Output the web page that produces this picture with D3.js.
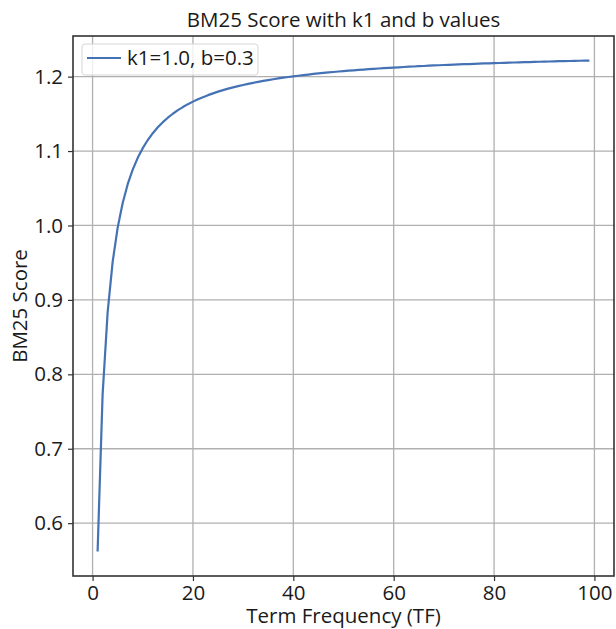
<!DOCTYPE html>
<html>
<head>
<meta charset="utf-8">
<script src="https://cdn.jsdelivr.net/npm/d3@7"></script>
<style>
  html, body { margin: 0; padding: 0; background: #fff; }
  svg text { font-family: "Open Sans", "Noto Sans", sans-serif; fill: #1a1a1a; }
</style>
</head>
<body>
<svg id="chart" width="616" height="629"></svg>
<script>
// Data
const termFrequency = d3.range(1, 100);
const bm25Scores = [
  0.5620, 0.7728, 0.8831, 0.9511, 0.9971, 1.0303, 1.0555, 1.0751, 1.0909, 1.1039,
  1.1148, 1.1240, 1.1319, 1.1388, 1.1448, 1.1501, 1.1549, 1.1591, 1.1630, 1.1664,
  1.1696, 1.1724, 1.1751, 1.1775, 1.1798, 1.1818, 1.1838, 1.1856, 1.1873, 1.1888,
  1.1903, 1.1917, 1.1930, 1.1943, 1.1954, 1.1965, 1.1976, 1.1986, 1.1995, 1.2004,
  1.2012, 1.2021, 1.2028, 1.2036, 1.2043, 1.2050, 1.2056, 1.2062, 1.2069, 1.2074,
  1.2080, 1.2085, 1.2090, 1.2095, 1.2100, 1.2105, 1.2109, 1.2113, 1.2118, 1.2122,
  1.2125, 1.2129, 1.2133, 1.2136, 1.2140, 1.2143, 1.2147, 1.2150, 1.2153, 1.2156,
  1.2158, 1.2161, 1.2164, 1.2167, 1.2169, 1.2172, 1.2174, 1.2177, 1.2179, 1.2181,
  1.2183, 1.2186, 1.2188, 1.2190, 1.2192, 1.2194, 1.2196, 1.2198, 1.2200, 1.2201,
  1.2203, 1.2205, 1.2207, 1.2208, 1.2210, 1.2211, 1.2213, 1.2214, 1.2216
];
const xTicks = [0, 20, 40, 60, 80, 100];
const yTicks = [0.6, 0.7, 0.8, 0.9, 1.0, 1.1, 1.2];
const seriesLabel = "k1=1.0, b=0.3";
const titleText = "BM25 Score with k1 and b values";
const xLabelText = "Term Frequency (TF)";
const yLabelText = "BM25 Score";

(function () {
const data = termFrequency.map((t, i) => ({ tf: t, score: bm25Scores[i] }));

const svg = d3.select("#chart");
const pL = 73, pR = 614, pT = 36, pB = 576;
const fs = 20.5;

// matplotlib-style 5% margins
const xExt = d3.extent(termFrequency), yExt = d3.extent(bm25Scores);
const xPad = (xExt[1] - xExt[0]) * 0.05, yPad = (yExt[1] - yExt[0]) * 0.05;
const x = d3.scaleLinear().domain([xExt[0] - xPad, xExt[1] + xPad]).range([pL, pR]);
const y = d3.scaleLinear().domain([yExt[0] - yPad, yExt[1] + yPad]).range([pB, pT]);

// grid
const grid = svg.append("g");
grid.selectAll(".gx").data(xTicks).join("line")
  .attr("x1", d => x(d)).attr("x2", d => x(d)).attr("y1", pT).attr("y2", pB)
  .attr("stroke", "#b0b0b0").attr("stroke-width", 1.3);
grid.selectAll(".gy").data(yTicks).join("line")
  .attr("y1", d => y(d)).attr("y2", d => y(d)).attr("x1", pL).attr("x2", pR)
  .attr("stroke", "#b0b0b0").attr("stroke-width", 1.3);

// line
svg.append("path").datum(data)
  .attr("fill", "none").attr("stroke", "#4472b4").attr("stroke-width", 2.2)
  .attr("stroke-linejoin", "round")
  .attr("d", d3.line().x(d => x(d.tf)).y(d => y(d.score)));

// axes
const xAxis = svg.append("g").attr("transform", `translate(0,${pB})`)
  .call(d3.axisBottom(x).tickValues(xTicks).tickSize(5).tickPadding(5).tickFormat(d3.format("d")));
const yAxis = svg.append("g").attr("transform", `translate(${pL},0)`)
  .call(d3.axisLeft(y).tickValues(yTicks).tickSize(5).tickPadding(5).tickFormat(d3.format(".1f")));
[xAxis, yAxis].forEach(a => {
  a.select(".domain").remove();
  a.selectAll("line").attr("stroke", "#333").attr("stroke-width", 1.2);
  a.selectAll("text").attr("font-size", fs).attr("fill", "#1a1a1a");
});
xAxis.selectAll("text").attr("dy", "0.68em");

// frame
svg.append("rect").attr("x", pL).attr("y", pT)
  .attr("width", pR - pL).attr("height", pB - pT)
  .attr("fill", "none").attr("stroke", "#333").attr("stroke-width", 1.6);

// title and labels
svg.append("text").attr("x", (pL + pR) / 2).attr("y", 27)
  .attr("text-anchor", "middle").attr("font-size", fs).text(titleText);
svg.append("text").attr("x", (pL + pR) / 2).attr("y", 623)
  .attr("text-anchor", "middle").attr("font-size", fs).text(xLabelText);
svg.append("text").attr("transform", `translate(27,${(pT + pB) / 2}) rotate(-90)`)
  .attr("text-anchor", "middle").attr("font-size", fs).text(yLabelText);

// legend
const lg = svg.append("g");
lg.append("rect").attr("x", 82).attr("y", 44).attr("width", 176).attr("height", 31)
  .attr("rx", 3).attr("fill", "#fff").attr("fill-opacity", 0.8)
  .attr("stroke", "#d6d6d6").attr("stroke-width", 1);
lg.append("line").attr("x1", 87).attr("x2", 121).attr("y1", 58).attr("y2", 58)
  .attr("stroke", "#4472b4").attr("stroke-width", 2.2);
lg.append("text").attr("x", 127).attr("y", 58).attr("dy", "0.35em")
  .attr("font-size", fs).text(seriesLabel);
})();
</script>
</body>
</html>
